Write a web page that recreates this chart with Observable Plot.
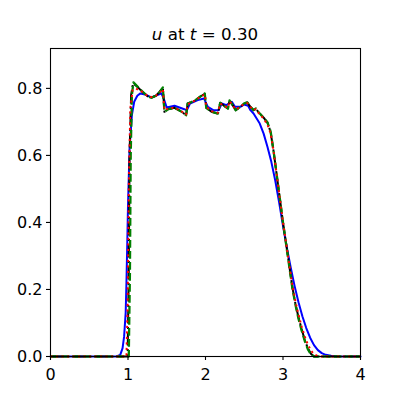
<!DOCTYPE html>
<html>
<head>
<meta charset="utf-8">
<script src="https://cdn.jsdelivr.net/npm/d3@7"></script>
<script src="https://cdn.jsdelivr.net/npm/@observablehq/plot@0.6"></script>
<style>
  body { margin: 0; background: #fff; }
  #wrap { width: 400px; height: 400px; font-family: "DejaVu Sans", sans-serif; }
  #title { height: 44px; box-sizing: border-box; padding-top: 24px; font-size: 16.7px; line-height: 20px; text-align: center; color: #000; padding-left: 10px; }
  #title i { font-style: italic; }
</style>
</head>
<body>
<div id="wrap">
  <div id="title"><i>u</i> at <i>t</i> = 0.30</div>
  <div id="chart"></div>
</div>
<script>
// x tick values
const xTicks = [0, 1, 2, 3, 4];
const yTicks = [0, 0.2, 0.4, 0.6, 0.8];

// green dashed series
const greenX = [0, 1.01, 1.025, 1.035, 1.05, 1.07, 1.12, 1.18, 1.25, 1.3, 1.36, 1.41, 1.45, 1.47, 1.52, 1.6, 1.68, 1.75, 1.77, 1.85, 1.93, 1.99, 2.01, 2.08, 2.16, 2.19, 2.24, 2.29, 2.31, 2.35, 2.39, 2.45, 2.5, 2.54, 2.58, 2.62, 2.65, 2.68, 2.72, 2.76, 2.8, 2.84, 2.88, 2.92, 2.96, 3.0, 3.04, 3.08, 3.12, 3.16, 3.2, 3.24, 3.28, 3.32, 3.36, 3.4, 4.0];
const greenY = [0, 0, 0.25, 0.6, 0.78, 0.818, 0.806, 0.792, 0.777, 0.772, 0.778, 0.79, 0.803, 0.73, 0.738, 0.742, 0.732, 0.72, 0.755, 0.762, 0.775, 0.785, 0.742, 0.73, 0.725, 0.757, 0.748, 0.74, 0.764, 0.75, 0.735, 0.745, 0.755, 0.758, 0.745, 0.735, 0.74, 0.73, 0.72, 0.71, 0.698, 0.672, 0.61, 0.54, 0.47, 0.40, 0.335, 0.27, 0.205, 0.155, 0.113, 0.078, 0.047, 0.022, 0.006, 0, 0];

// black dash-dot series
const blackX = [0, 0.995, 1.01, 1.02, 1.04, 1.065, 1.12, 1.18, 1.25, 1.3, 1.36, 1.41, 1.45, 1.47, 1.52, 1.6, 1.68, 1.75, 1.77, 1.85, 1.93, 1.99, 2.01, 2.08, 2.16, 2.19, 2.24, 2.29, 2.31, 2.35, 2.39, 2.45, 2.5, 2.54, 2.58, 2.62, 2.65, 2.68, 2.72, 2.76, 2.8, 2.84, 2.88, 2.92, 2.96, 3.0, 3.04, 3.08, 3.12, 3.16, 3.2, 3.24, 3.28, 3.32, 3.36, 3.4, 4.0];
const blackY = [0, 0, 0.25, 0.6, 0.78, 0.815, 0.805, 0.791, 0.777, 0.772, 0.778, 0.79, 0.802, 0.73, 0.738, 0.742, 0.732, 0.72, 0.755, 0.762, 0.775, 0.784, 0.742, 0.73, 0.725, 0.757, 0.748, 0.74, 0.764, 0.75, 0.735, 0.745, 0.755, 0.758, 0.745, 0.735, 0.74, 0.73, 0.72, 0.71, 0.698, 0.67, 0.61, 0.54, 0.47, 0.40, 0.337, 0.272, 0.208, 0.158, 0.117, 0.082, 0.05, 0.025, 0.008, 0, 0];

// red dotted series
const redX = [0, 0.98, 0.995, 1.01, 1.03, 1.06, 1.1, 1.18, 1.25, 1.3, 1.36, 1.41, 1.45, 1.47, 1.52, 1.6, 1.68, 1.75, 1.77, 1.85, 1.93, 1.99, 2.01, 2.08, 2.16, 2.19, 2.24, 2.29, 2.31, 2.35, 2.39, 2.45, 2.5, 2.54, 2.58, 2.62, 2.65, 2.68, 2.72, 2.76, 2.8, 2.84, 2.88, 2.92, 2.96, 3.0, 3.04, 3.08, 3.12, 3.16, 3.2, 3.24, 3.28, 3.32, 3.36, 3.4, 3.45, 3.5, 4.0];
const redY = [0, 0, 0.15, 0.5, 0.74, 0.795, 0.8, 0.79, 0.778, 0.774, 0.778, 0.788, 0.798, 0.735, 0.74, 0.743, 0.733, 0.722, 0.752, 0.762, 0.774, 0.782, 0.745, 0.732, 0.727, 0.755, 0.748, 0.742, 0.762, 0.75, 0.737, 0.745, 0.754, 0.756, 0.745, 0.735, 0.738, 0.728, 0.718, 0.706, 0.692, 0.665, 0.61, 0.54, 0.47, 0.40, 0.338, 0.275, 0.215, 0.165, 0.125, 0.09, 0.06, 0.036, 0.018, 0.007, 0.001, 0, 0];

// blue solid series
const blueX = [0, 0.85, 0.9, 0.93, 0.95, 0.97, 0.98, 0.99, 1.0, 1.02, 1.05, 1.08, 1.12, 1.16, 1.22, 1.3, 1.38, 1.43, 1.46, 1.5, 1.6, 1.7, 1.76, 1.8, 1.9, 1.98, 2.03, 2.1, 2.17, 2.21, 2.27, 2.3, 2.34, 2.38, 2.45, 2.5, 2.55, 2.58, 2.62, 2.66, 2.7, 2.75, 2.8, 2.85, 2.9, 2.95, 3.0, 3.05, 3.1, 3.15, 3.2, 3.25, 3.3, 3.35, 3.4, 3.45, 3.5, 3.55, 3.62, 3.7, 4.0];
const blueY = [0, 0, 0.005, 0.025, 0.06, 0.13, 0.22, 0.33, 0.45, 0.62, 0.72, 0.76, 0.778, 0.785, 0.782, 0.773, 0.78, 0.785, 0.77, 0.743, 0.748, 0.74, 0.735, 0.755, 0.765, 0.77, 0.745, 0.735, 0.735, 0.755, 0.75, 0.755, 0.76, 0.745, 0.745, 0.752, 0.748, 0.735, 0.725, 0.71, 0.695, 0.665, 0.625, 0.58, 0.525, 0.46, 0.39, 0.325, 0.265, 0.21, 0.162, 0.12, 0.085, 0.056, 0.034, 0.019, 0.01, 0.005, 0.002, 0, 0];

const lw = 2;
const chart = Plot.plot({
  width: 400,
  height: 356,
  marginLeft: 50,
  marginRight: 40,
  marginTop: 4,
  marginBottom: 44,
  style: { fontFamily: "DejaVu Sans, sans-serif", fontSize: "16px", color: "#000", background: "#fff" },
  x: { domain: [0, 4], label: null },
  y: { domain: [0, 0.919], label: null },
  marks: [
    Plot.line(blueY, { x: blueX, y: blueY, stroke: "blue", strokeWidth: lw }),
    Plot.line(blackY, { x: blackX, y: blackY, stroke: "black", strokeWidth: lw, strokeDasharray: "13.3,3.3,2.1,3.3", strokeLinecap: "butt" }),
    Plot.line(greenY, { x: greenX, y: greenY, stroke: "green", strokeWidth: 2.3, strokeDasharray: "7.7,3.3", strokeLinecap: "butt" }),
    Plot.line(redY, { x: redX, y: redY, stroke: "red", strokeWidth: lw, strokeDasharray: "2.1,3.4", strokeLinecap: "butt" }),
    Plot.frame({ stroke: "black", strokeWidth: 1.1 }),
    Plot.axisX({ ticks: xTicks, tickFormat: "d", tickSize: 4, tickPadding: 8, strokeWidth: 1.1, label: null }),
    Plot.axisY({ ticks: yTicks, tickFormat: ".1f", tickSize: 4, tickPadding: 4, strokeWidth: 1.1, label: null })
  ]
});
document.getElementById("chart").appendChild(chart);
</script>
</body>
</html>
